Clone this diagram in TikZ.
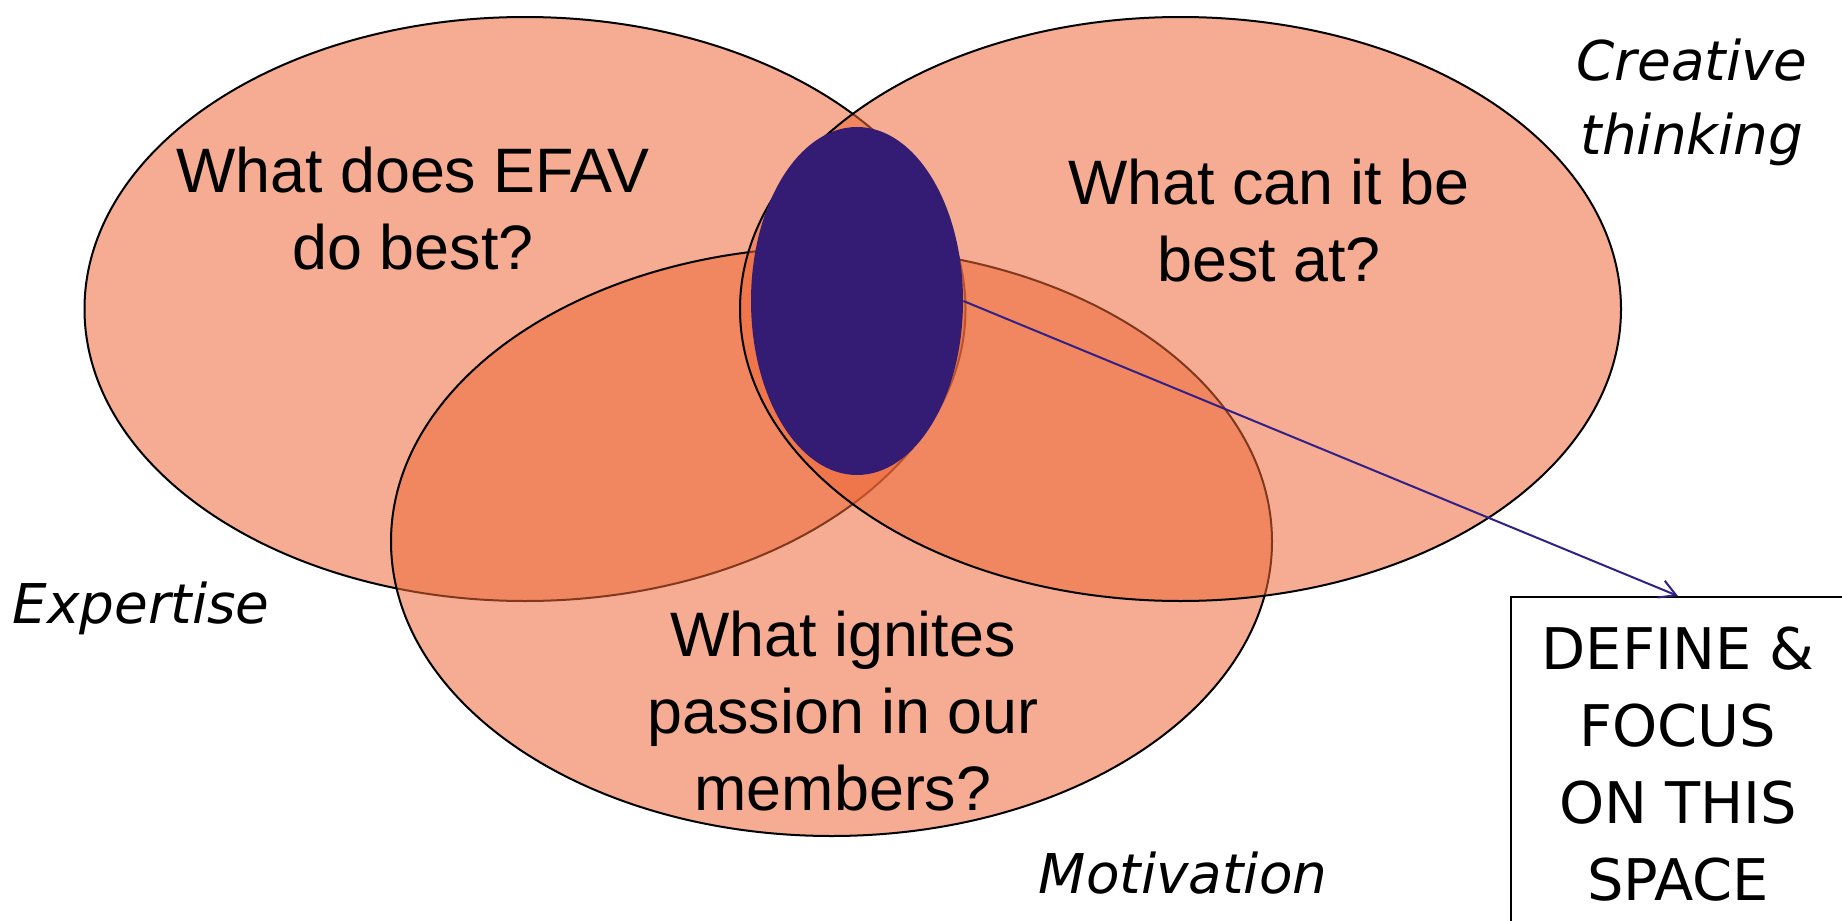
\documentclass[tikz,border=0pt]{standalone}
\usepackage{fontspec}
\setmainfont{Liberation Sans}
\newfontfamily\notefont{DejaVu Sans}
\usepackage{tikz}
\usetikzlibrary{
  arrows.meta,
  shapes.geometric
}
\definecolor{vennorange}{RGB}{236,104,56}
\definecolor{focusblue}{RGB}{52,28,116}
\definecolor{arrowblue}{RGB}{50,32,135}

\begin{document}
\begin{tikzpicture}[
      x=0.5pt,y=-0.5pt,
      venn/.style={
         ellipse,
         inner sep=0pt,
         line width=1pt,
         draw=black,
         fill=vennorange,
         fill opacity=0.55,
         minimum width=440.5pt,
         minimum height=292pt
      },
      focus/.style={
         ellipse,
         inner sep=0pt,
         fill=focusblue,
         minimum width=106pt,
         minimum height=174pt
      },
      question/.style={
         align=center,
         inner sep=0pt,
         font=\fontsize{31.4}{38.5}\selectfont
      },
      axis label/.style={
         align=center,
         inner sep=0pt,
         font=\notefont\itshape\fontsize{27.4}{37}\selectfont
      },
      callout/.style={
         rectangle,
         draw=black,
         line width=1pt,
         align=center,
         inner xsep=0pt,
         inner ysep=14.7pt,
         minimum width=167pt,
         font=\notefont\fontsize{28.7}{38.5}\selectfont
      },
      tip/.style={-{Straight Barb[length=8pt,width=9pt]},line width=1pt,draw=arrowblue}
    ]
    \useasboundingbox (0,0) rectangle (1842,921);
    \clip (0,0) rectangle (1842,921);
    % the three circles, left, bottom, right
    \node (expertise) [venn] at (525,309) {};
    \node (motivation) [venn, minimum height=294.5pt] at (831.5,541.5) {};
    \node (creative) [venn] at (1180.5,309) {};
    \node (sweetspot) [focus] at (857,301) {};
    % questions
    \node (q1) [question] at (413,209) {What does EFAV\\do best?};
    \node (q2) [question] at (1269,221) {What can it be\\best at?};
    \node (q3) [question] at (843,711) {What ignites\\passion in our\\members?};
    % labels
    \node (l1) [axis label, anchor=base] at (141,623) {Expertise};
    \node (l2) [axis label] at (1692,102) {Creative\\thinking};
    \node (l3) [axis label, anchor=base] at (1183,893) {Motivation};
    % box
    \node (space) [callout, anchor=north] at (1678,596) {DEFINE \&\\FOCUS\\ON THIS\\SPACE};
    \draw [tip] (sweetspot.east) -- (space.north);
\end{tikzpicture}
\end{document}
